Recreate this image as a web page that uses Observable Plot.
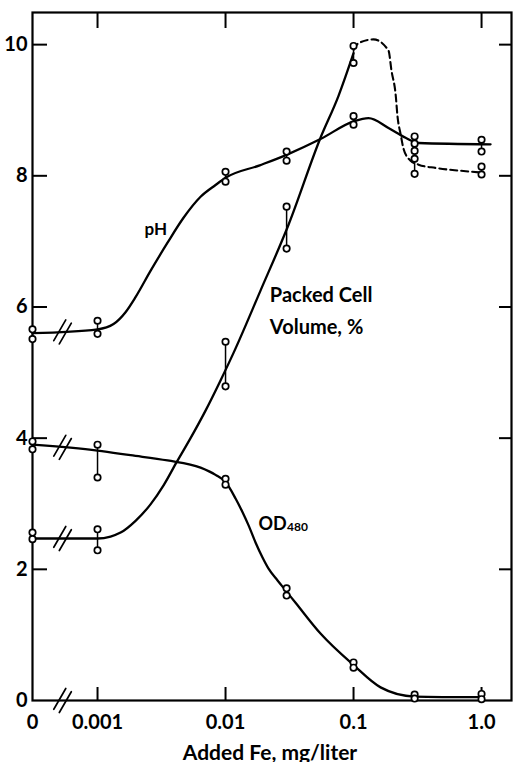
<!DOCTYPE html>
<html>
<head>
<meta charset="utf-8">
<script src="https://cdn.jsdelivr.net/npm/d3@7"></script>
<script src="https://cdn.jsdelivr.net/npm/@observablehq/plot@0.6"></script>
<style>
  html, body { margin: 0; padding: 0; background: #fff; }
  #chart svg { display: block; }
</style>
</head>
<body>
<div id="chart"></div>
<script>
// ---------- data ----------
// Broken log axis: "0" (no added Fe) sits left of the 0.001 decade.
const ZERO_AT = 10 ** -3.508;
const X_MAX = 10 ** 0.234;
const Y_MAX = 10.49;
const BREAK_AT = 0.000533;

const xTicks = [0, 0.001, 0.01, 0.1, 1.0];
const xTickLabels = ["0", "0.001", "0.01", "0.1", "1.0"];
const yTicks = [0, 2, 4, 6, 8, 10];
const yTickLabels = ["0", "2", "4", "6", "8", "10"];

const conc = [0, 0.001, 0.01, 0.03, 0.1, 0.3, 1.0];

// observed replicates at each concentration
const phObs  = [[5.66, 5.51], [5.79, 5.59], [8.06, 7.91], [8.37, 8.23], [8.91, 8.78], [8.60, 8.49], [8.55, 8.37]];
const pcvObs = [[2.56, 2.46], [2.61, 2.29], [5.47, 4.79], [7.53, 6.89], [9.98, 9.72], [8.38, 8.26, 8.03], [8.14, 8.02]];
const odObs  = [[3.95, 3.83], [3.90, 3.40], [3.38, 3.29], [1.71, 1.60], [0.58, 0.50], [0.09, 0.03], [0.10, 0.02]];

// hand-drawn fitted curves
const phFitX = [0, 0.001, 0.001334, 0.001655, 0.001982, 0.002594, 0.003523, 0.004697, 0.006383, 0.008356, 0.01, 0.0185, 0.03, 0.0552, 0.1, 0.131, 0.1875, 0.255, 0.322, 1.176];
const phFitY = [5.60, 5.66, 5.74, 5.92, 6.15, 6.55, 6.98, 7.36, 7.68, 7.86, 7.97, 8.16, 8.32, 8.56, 8.83, 8.88, 8.73, 8.58, 8.50, 8.48];

const pcvFitX = [0, 0.001, 0.001264, 0.001514, 0.001982, 0.002594, 0.00328, 0.00414, 0.00533, 0.00698, 0.00914, 0.01155, 0.01876, 0.031, 0.05521, 0.07634, 0.1];
const pcvFitY = [2.47, 2.47, 2.50, 2.56, 2.74, 2.99, 3.28, 3.63, 4.00, 4.42, 4.88, 5.30, 6.25, 7.25, 8.58, 9.22, 9.87];

const pcvDashX = [0.1, 0.109, 0.143, 0.1875, 0.198, 0.213, 0.221, 0.233, 0.246, 0.279, 0.322, 0.437, 0.661, 1.0];
const pcvDashY = [9.92, 10.02, 10.08, 9.91, 9.60, 9.25, 8.89, 8.64, 8.41, 8.23, 8.17, 8.12, 8.08, 8.05];

const odFitX = [0, 0.001, 0.001813, 0.003523, 0.006383, 0.008356, 0.01, 0.011975, 0.013585, 0.015136, 0.017154, 0.019449, 0.021681, 0.025497, 0.03, 0.035237, 0.05521, 0.1, 0.1626, 0.3, 1.0];
const odFitY = [3.90, 3.81, 3.74, 3.66, 3.55, 3.44, 3.33, 3.08, 2.87, 2.67, 2.41, 2.18, 2.01, 1.83, 1.66, 1.49, 1.02, 0.54, 0.20, 0.06, 0.05];

// levels where the "//" break marks cross: pH, OD, PCV curves and the x axis
const breakLevels = [5.62, 3.86, 2.47, 0];

const labelTexts = ["pH", "Packed Cell", "Volume, %", "OD", "480"];
const labelX = [0.002328, 0.0222, 0.0222, 0.01811, 0.0302];
const labelY = [7.09, 6.07, 5.59, 2.607, 2.58];
const labelSize = [17, 20, 20, 18, 12];

const xTitle = "Added Fe, mg/liter";

// ---------- build tables ----------
const pos = c => (c === 0 ? ZERO_AT : c);
const series = [["pH", phObs], ["PCV", pcvObs], ["OD", odObs]];
const obs = [];
const bars = [];
for (const [s, arr] of series) {
  arr.forEach((vals, i) => {
    vals.forEach(v => obs.push({s, x: pos(conc[i]), y: v}));
    bars.push({s, x: pos(conc[i]), y1: Math.min(...vals), y2: Math.max(...vals)});
  });
}
const toRows = (X, Y) => X.map((x, i) => ({x: pos(x), y: Y[i]}));
const phFit = toRows(phFitX, phFitY);
const pcvFit = toRows(pcvFitX, pcvFitY);
const pcvDash = toRows(pcvDashX, pcvDashY);
const odFit = toRows(odFitX, odFitY);
const labels = labelTexts.map((t, i) => ({t, x: labelX[i], y: labelY[i], size: labelSize[i]}));

const W = 514, H = 762, ML = 32, MR = 3, MT = 12, MB = 62;
const FW = W - ML - MR, FH = H - MT - MB;

const slash = {
  draw(context, l) {
    context.moveTo(-3.2, 0); context.lineTo(-3.2, -l);
    context.moveTo(3.2, 0); context.lineTo(3.2, -l);
  }
};

const chart = Plot.plot({
  width: W, height: H,
  marginLeft: ML, marginRight: MR, marginTop: MT, marginBottom: MB,
  x: {type: "log", domain: [ZERO_AT, X_MAX], axis: null},
  y: {domain: [0, Y_MAX], axis: null},
  style: {fontFamily: "Lato", fontWeight: "bold", fontSize: "20px", background: "#fff", color: "#000"},
  marks: [
    Plot.frame({strokeWidth: 2.2}),
    // inward ticks on all four sides
    Plot.tickY(yTicks.filter(d => d > 0), {y: d => d, insetRight: FW - 15, strokeWidth: 2}),
    Plot.tickY(yTicks.filter(d => d > 0), {y: d => d, insetLeft: FW - 12, strokeWidth: 2}),
    Plot.tickX(xTicks.slice(1), {x: d => d, insetBottom: FH - 16, strokeWidth: 2}),
    Plot.tickX(xTicks.slice(1), {x: d => d, insetTop: FH - 13, strokeWidth: 2}),
    // tick labels
    Plot.axisY(yTicks, {anchor: "left", tickSize: 0, tickPadding: 5, tickFormat: d => yTickLabels[yTicks.indexOf(d)], fontSize: 20, fontWeight: "bold", fontVariant: "normal", label: null}),
    Plot.text(xTicks, {x: d => pos(d), text: (d, i) => xTickLabels[i], frameAnchor: "bottom", lineAnchor: "bottom", dy: 28, fontSize: 20, fontWeight: "bold"}),
    Plot.text([xTitle], {text: d => d, frameAnchor: "bottom", lineAnchor: "bottom", dy: 59, dx: -2, fontSize: 21, fontWeight: "bold"}),
    // fitted curves
    Plot.line(phFit, {x: "x", y: "y", curve: "monotone-x", strokeWidth: 2.3}),
    Plot.line(pcvFit, {x: "x", y: "y", curve: "monotone-x", strokeWidth: 2.3}),
    Plot.line(pcvDash, {x: "x", y: "y", curve: "monotone-x", strokeWidth: 2.1, strokeDasharray: "7,4"}),
    Plot.line(odFit, {x: "x", y: "y", curve: "monotone-x", strokeWidth: 2.3}),
    // axis-break marks
    Plot.vector(breakLevels, {x: () => BREAK_AT, y: d => d, length: 24, rotate: 30, anchor: "middle", shape: slash, stroke: "#000", strokeWidth: 1.7}),
    // replicate ranges and points
    Plot.ruleX(bars, {x: "x", y1: "y1", y2: "y2", strokeWidth: 1.5}),
    Plot.dot(obs, {x: "x", y: "y", r: 3.2, stroke: "#000", fill: "#fff", strokeWidth: 1.7}),
    // curve labels
    Plot.text(labels, {x: "x", y: "y", text: "t", fontSize: "size", textAnchor: "start", lineAnchor: "bottom", fontWeight: "bold"})
  ]
});
document.getElementById("chart").appendChild(chart);
</script>
</body>
</html>
